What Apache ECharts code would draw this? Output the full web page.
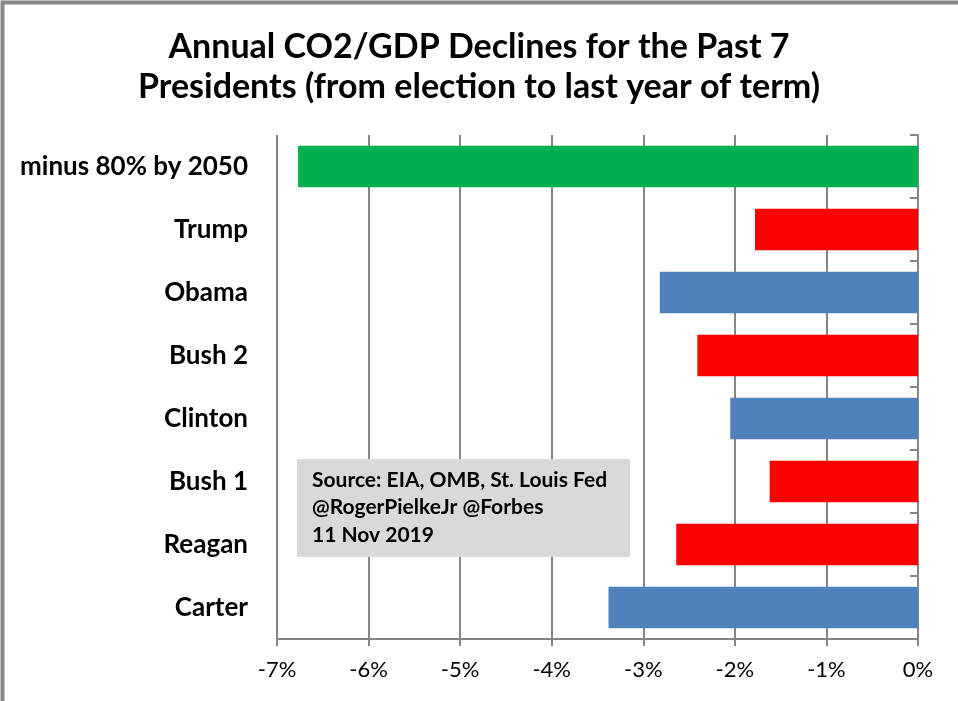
<!DOCTYPE html>
<html><head><meta charset="utf-8">
<script src="https://cdn.jsdelivr.net/npm/echarts@6/dist/echarts.min.js"></script>
<style>html,body{margin:0;padding:0;background:#fff}#c{width:958px;height:701px}</style>
</head><body><div id="c"></div>
<script>
const categories = ['Carter','Reagan','Bush 1','Clinton','Bush 2','Obama','Trump','minus 80% by 2050'];
const values = [-3.38,-2.64,-1.62,-2.05,-2.41,-2.82,-1.78,-6.77];
const groups = ['D','R','R','D','R','D','R','T'];
const xTicks = [-7,-6,-5,-4,-3,-2,-1,0];
const groupColors = {D:'#4F81BD', R:'#FF0000', T:'#00B050'};
const FONT = 'Lato, "Noto Sans", sans-serif';
const chart = echarts.init(document.getElementById('c'));
chart.setOption({
  animation:false,
  title:{text:'Annual CO2/GDP Declines for the Past 7\nPresidents (from election to last year of term)',left:'center',top:22,
    textStyle:{fontFamily:FONT,fontSize:34,fontWeight:'bold',color:'#000',lineHeight:40}},
  grid:{left:277,right:40,top:135,bottom:62},
  xAxis:{type:'value',min:xTicks[0],max:xTicks[xTicks.length-1],interval:1,
    axisLine:{show:true,lineStyle:{color:'#868686',width:2}},
    axisTick:{show:true,length:7,lineStyle:{color:'#868686',width:2}},
    splitLine:{show:true,lineStyle:{color:'#868686',width:2}},
    axisLabel:{formatter:v=>v+'%',fontFamily:FONT,fontSize:22,color:'#000',margin:20}},
  yAxis:[
    {type:'category',data:categories,position:'left',
     axisLine:{show:false},axisTick:{show:false},
     axisLabel:{fontFamily:FONT,fontSize:26,fontWeight:'bold',color:'#000',margin:29}},
    {type:'category',data:categories,position:'right',
     axisLine:{show:true,lineStyle:{color:'#868686',width:2}},
     axisTick:{show:true,inside:true,length:8,lineStyle:{color:'#868686',width:2}},
     axisLabel:{show:false}}
  ],
  series:[{type:'bar',yAxisIndex:0,barCategoryGap:'34%',
    data:values.map((v,i)=>({value:v,itemStyle:{color:groupColors[groups[i]]}}))}],
  graphic:[
    {type:'rect',left:0,top:0,shape:{width:958,height:701},style:{fill:'none',stroke:'#888',lineWidth:4},z:100},
    {type:'rect',left:297,top:459,shape:{width:333,height:98},style:{fill:'#D9D9D9'},z:50},
    {type:'text',left:312,top:466,style:{text:'Source: EIA, OMB, St. Louis Fed\n@RogerPielkeJr @Forbes\n11 Nov 2019',
      font:'bold 21px '+FONT,fill:'#000',lineHeight:27.5},z:51}
  ]
});
</script></body></html>
